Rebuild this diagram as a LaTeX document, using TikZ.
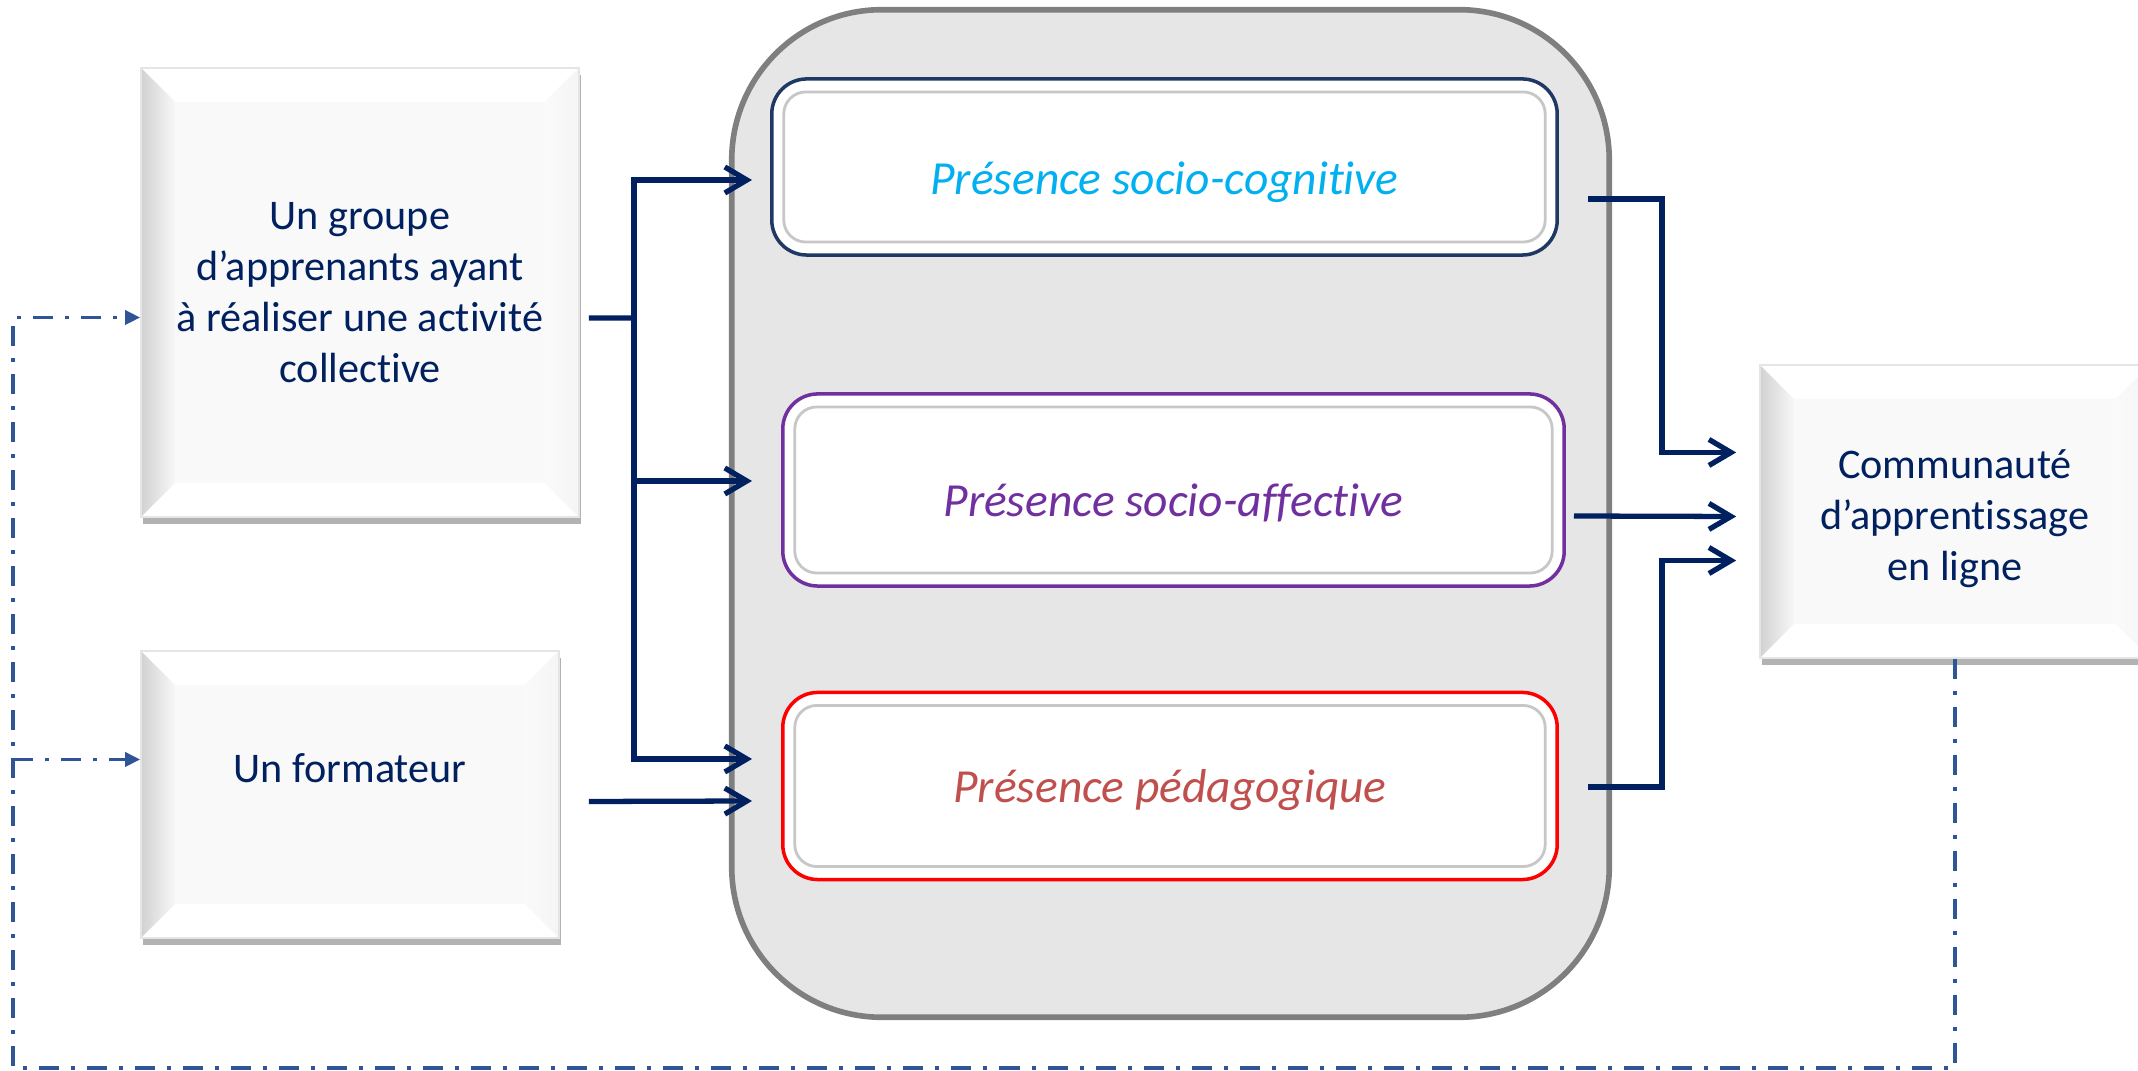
\documentclass[tikz,border=0pt]{standalone}
\usepackage{fontspec}
\setmainfont{Carlito}[Ligatures=NoCommon]
\usetikzlibrary{arrows.meta,shadows}
\definecolor{navy}{HTML}{002060}
\definecolor{dashblue}{HTML}{2F5597}
\definecolor{panelgray}{HTML}{E6E6E6}
\definecolor{panelline}{HTML}{7F7F7F}
\definecolor{cogline}{HTML}{203864}
\definecolor{cogtext}{HTML}{00B0F0}
\definecolor{affcol}{HTML}{7030A0}
\definecolor{pedline}{HTML}{FF0000}
\definecolor{pedtext}{HTML}{C0504D}
\newcommand{\nudge}[2]{\raisebox{#1}[\height][\depth]{#2}}
\tikzset{
  bevelbox/.style={fill=black!2.5, draw=black!10, line width=0.4pt, inner sep=0pt,
    align=center, text=navy, font=\fontsize{12}{14.5}\selectfont,
    drop shadow={shadow xshift=0.02cm, shadow yshift=-0.07cm, opacity=0.3, fill=black},
    path picture={
      \coordinate (nw) at (path picture bounding box.north west);
      \coordinate (ne) at (path picture bounding box.north east);
      \coordinate (sw) at (path picture bounding box.south west);
      \coordinate (se) at (path picture bounding box.south east);
      \fill[white] (nw) -- (ne) -- ([shift={(-0.34cm,-0.34cm)}]ne) -- ([shift={(0.34cm,-0.34cm)}]nw) -- cycle;
      \fill[white] (sw) -- (se) -- ([shift={(-0.34cm,0.34cm)}]se) -- ([shift={(0.34cm,0.34cm)}]sw) -- cycle;
      \fill[left color=black!18, right color=black!3] (nw) -- ([shift={(0.34cm,-0.34cm)}]nw) -- ([shift={(0.34cm,0.34cm)}]sw) -- (sw) -- cycle;
      \fill[left color=black!2, right color=black!4] (ne) -- ([shift={(-0.34cm,-0.34cm)}]ne) -- ([shift={(-0.34cm,0.34cm)}]se) -- (se) -- cycle;
    }},
  panel/.style={fill=panelgray, draw=panelline, line width=1.6pt, rounded corners=1.5cm},
  presence/.style={draw=#1, line width=1pt, fill=white, rounded corners=0.35cm, inner sep=0pt,
    font=\fontsize{13.5}{16}\selectfont\itshape,
    path picture={
      \draw[black!22, line width=0.8pt, rounded corners=0.22cm]
        ([shift={(0.12cm,-0.13cm)}]path picture bounding box.north west) rectangle
        ([shift={(-0.12cm,0.13cm)}]path picture bounding box.south east);
    }},
  link/.style={navy, line width=1.5pt},
  flow/.style={link, -{Straight Barb[length=0.22cm,width=0.26cm]}},
  feedback/.style={dashblue, line width=1pt, dash pattern=on 0.2cm off 0.12cm on 0.04cm off 0.12cm,
    -{Triangle[length=0.15cm,width=0.14cm]}}
}
\begin{document}
\begin{tikzpicture}[x=0.01cm,y=-0.01cm]
		\useasboundingbox (0,0) rectangle (2138,1071);
		\node[panel, minimum width=8.77cm, minimum height=10.07cm] (panel) at (1170.5,513.5) {};
		\node[presence=cogline, text=cogtext, minimum width=7.85cm, minimum height=1.76cm] (cog) at (1164.5,167) {\nudge{-0.15cm}{Présence socio-cognitive}};
		\node[presence=affcol, text=affcol, minimum width=7.81cm, minimum height=1.92cm] (aff) at (1173.5,490) {\nudge{-0.13cm}{Présence socio-affective}};
		\node[presence=pedline, text=pedtext, minimum width=7.74cm, minimum height=1.87cm] (ped) at (1170,786) {\nudge{-0.04cm}{Présence pédagogique}};
		\node[bevelbox, minimum width=4.38cm, minimum height=4.49cm] (group) at (360,292.5) {\nudge{-0.03cm}{\begin{tabular}{@{}c@{}}Un groupe\\d’apprenants ayant\\à réaliser une activité\\collective\end{tabular}}};
		\node[bevelbox, minimum width=4.18cm, minimum height=2.87cm] (trainer) at (350,794.5) {\nudge{0.26cm}{Un formateur}};
		\node[bevelbox, minimum width=3.9cm, minimum height=2.93cm] (comm) at (1955,511.5) {\nudge{-0.08cm}{\begin{tabular}{@{}c@{}}Communauté\\d’apprentissage\\en ligne\end{tabular}}};
		\coordinate (bus) at (634,318);
		\coordinate (merge) at (1662,0);
		\coordinate (loopSW) at (13,1068);
		\coordinate (cogIn) at ([shift={(-0.18cm,-0.13cm)}]cog.west);
		\coordinate (affIn) at ([shift={(-0.29cm,0.09cm)}]aff.west);
		\coordinate (pedIn) at ([shift={(-0.29cm,0.27cm)}]ped.west);
		\coordinate (pedIn2) at ([shift={(-0.29cm,-0.15cm)}]ped.west);
		\coordinate (cogOut) at ([shift={(0.29cm,-0.32cm)}]cog.east);
		\coordinate (affOut) at ([shift={(0.08cm,-0.26cm)}]aff.east);
		\coordinate (pedOut) at ([shift={(0.29cm,-0.01cm)}]ped.east);
		\coordinate (commIn1) at ([shift={(-0.23cm,0.59cm)}]comm.west);
		\coordinate (commIn2) at ([shift={(-0.23cm,-0.05cm)}]comm.west);
		\coordinate (commIn3) at ([shift={(-0.23cm,-0.49cm)}]comm.west);
		\coordinate (groupIn) at ([yshift=-0.25cm]group.west);
		\coordinate (trainerIn) at ([yshift=0.35cm]trainer.west);
		\draw[link] ([shift={(0.09cm,-0.255cm)}]group.east) -- (bus);
		\draw[flow] (bus) |- (cogIn);
		\draw[flow] (bus) |- (pedIn);
		\draw[flow] (bus |- affIn) -- (affIn);
		\draw[flow] ([shift={(0.29cm,-0.07cm)}]trainer.east) -- (pedIn2);
		\draw[flow] (cogOut) -- (cogOut -| merge) |- (commIn1);
		\draw[flow] (affOut) -- (commIn2);
		\draw[flow] (pedOut) -- (pedOut -| merge) |- (commIn3);
		\draw[feedback] (comm.south) |- (loopSW) |- (groupIn);
		\draw[feedback] (trainerIn -| loopSW) -- (trainerIn);
	\end{tikzpicture}
\end{document}
